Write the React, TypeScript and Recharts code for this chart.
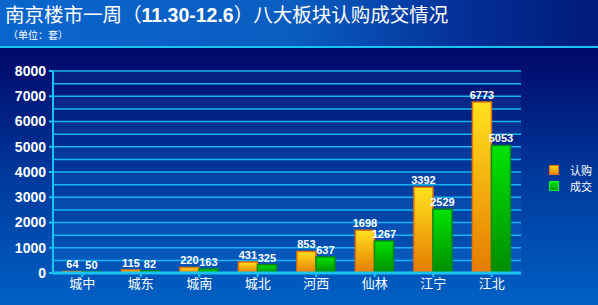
import { BarChart, Bar, XAxis, YAxis, CartesianGrid, LabelList } from 'recharts'

const districts = ['城中', '城东', '城南', '城北', '河西', '仙林', '江宁', '江北']
const subscribed = [64, 115, 220, 431, 853, 1698, 3392, 6773]
const closed = [50, 82, 163, 325, 637, 1267, 2529, 5053]
const yTicks = [0, 1000, 2000, 3000, 4000, 5000, 6000, 7000, 8000]
const gridValues = [0, 500, 1000, 1500, 2000, 2500, 3000, 3500, 4000, 4500, 5000, 5500, 6000, 6500, 7000, 7500, 8000]

const data = districts.map((name, i) => ({ name, rg: subscribed[i], cj: closed[i] }))

const font = 'Arial, "Liberation Sans", "Noto Sans CJK SC", sans-serif'
const cjk = '"Noto Sans CJK SC", sans-serif'

const legendItems = [
  { label: '认购', c1: '#ffd21a', c2: '#e88a00', border: '#e87000' },
  { label: '成交', c1: '#00e000', c2: '#009a00', border: '#00ff30' },
]

export default function App() {
  return (
    <div
      style={{
        position: 'fixed',
        left: 0,
        top: 0,
        width: 598,
        height: 305,
        overflow: 'hidden',
        background: 'linear-gradient(180deg, #000a68 0px, #000c6c 60px, #003a9e 180px, #0060c4 305px)',
      }}
    >
      {/* header */}
      <div
        style={{
          position: 'absolute',
          left: 0,
          top: 0,
          width: 598,
          height: 46,
          background: 'linear-gradient(90deg, #0a66cc 0%, #0a5cc0 50%, #032c94 80%, #001a78 100%)',
          borderBottom: '2px solid #18c4f0',
        }}
      >
        <div
          style={{
            position: 'absolute',
            left: 5,
            top: 3,
            fontFamily: cjk,
            fontSize: 19.5,
            lineHeight: '22px',
            color: '#fff',
            whiteSpace: 'nowrap',
          }}
        >
          南京楼市一周（<span style={{ fontFamily: font, fontWeight: 'bold' }}>11.30-12.6</span>）八大板块认购成交情况
        </div>
        <div
          style={{
            position: 'absolute',
            left: 8,
            top: 29,
            fontFamily: cjk,
            fontSize: 10,
            lineHeight: '11px',
            color: '#fff',
          }}
        >
          （单位：套）
        </div>
      </div>

      {/* legend */}
      <div style={{ position: 'absolute', left: 549, top: 162, fontFamily: cjk, fontSize: 11, lineHeight: '16px', color: '#fff' }}>
        {legendItems.map((it) => (
          <div key={it.label} style={{ display: 'flex', alignItems: 'center', height: 16 }}>
            <div
              style={{
                width: 8,
                height: 8,
                background: `linear-gradient(${it.c1}, ${it.c2})`,
                border: `1px solid ${it.border}`,
                marginRight: 11,
              }}
            />
            <span>{it.label}</span>
          </div>
        ))}
      </div>

      <div style={{ position: 'absolute', left: 0, top: 0 }}>
        <BarChart
          width={598}
          height={305}
          data={data}
          margin={{ top: 71, right: 77, left: 0, bottom: 0 }}
          barGap={0}
          barCategoryGap="17%"
        >
          <defs>
            <linearGradient id="gOrange" x1="0" y1="0" x2="0" y2="1">
              <stop offset="0%" stopColor="#ffe21e" />
              <stop offset="100%" stopColor="#e67a00" />
            </linearGradient>
            <linearGradient id="gGreen" x1="0" y1="0" x2="0" y2="1">
              <stop offset="0%" stopColor="#00e400" />
              <stop offset="100%" stopColor="#008c00" />
            </linearGradient>
          </defs>
          <CartesianGrid
            vertical={false}
            horizontalValues={gridValues}
            stroke="#1ab4f0"
            strokeWidth={1.5}
            horizontalFill={['rgba(70,170,255,0.09)', 'rgba(0,0,0,0)']}
            fillOpacity={1}
          />
          <XAxis
            dataKey="name"
            height={32}
            axisLine={{ stroke: '#18c4f0', strokeWidth: 3 }}
            tickLine={{ stroke: '#18c4f0', strokeWidth: 2 }}
            tickSize={4}
            interval={0}
            tick={{ fill: '#fff', fontSize: 13, fontFamily: cjk }}
          />
          <YAxis
            width={53}
            domain={[0, 8000]}
            ticks={yTicks}
            interval={0}
            axisLine={{ stroke: '#18c4f0', strokeWidth: 2 }}
            tickLine={{ stroke: '#18c4f0', strokeWidth: 2 }}
            tickSize={4}
            tickMargin={3}
            tick={{ fill: '#fff', fontSize: 14, fontWeight: 'bold', fontFamily: font }}
          />
          <Bar dataKey="rg" name="认购" fill="url(#gOrange)" stroke="#ea7400" strokeWidth={1.5} isAnimationActive={false}>
            <LabelList dataKey="rg" position="top" offset={3} fill="#fff" fontSize={11} fontWeight="bold" fontFamily={font} />
          </Bar>
          <Bar dataKey="cj" name="成交" fill="url(#gGreen)" stroke="#0a8a10" strokeWidth={1.5} isAnimationActive={false}>
            <LabelList dataKey="cj" position="top" offset={3} fill="#fff" fontSize={11} fontWeight="bold" fontFamily={font} />
          </Bar>
        </BarChart>
      </div>
    </div>
  )
}
